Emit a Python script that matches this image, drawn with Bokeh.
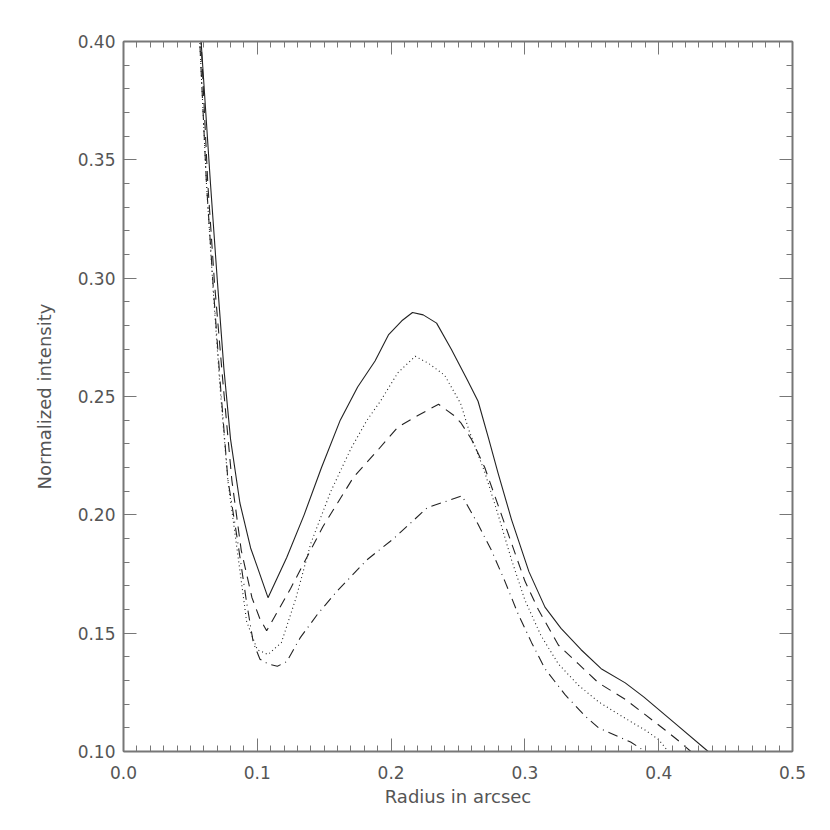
from bokeh.plotting import figure
from bokeh.models import LinearAxis, FixedTicker, PrintfTickFormatter, Range1d, CustomJSTickFormatter
from bokeh.embed import file_html
from bokeh.resources import INLINE

# Radius in arcsec / normalized intensity, four profiles
x_solid = [0.050, 0.058, 0.065, 0.070, 0.075, 0.080, 0.087, 0.095, 0.100, 0.108,
           0.122, 0.135, 0.148, 0.162, 0.175, 0.188, 0.198, 0.208, 0.216, 0.224,
           0.234, 0.245, 0.257, 0.265, 0.273, 0.280, 0.290, 0.303, 0.315, 0.327,
           0.342, 0.357, 0.375, 0.389, 0.412, 0.437, 0.450]
y_solid = [0.460, 0.400, 0.340, 0.300, 0.262, 0.232, 0.205, 0.186, 0.178, 0.165,
           0.182, 0.200, 0.220, 0.240, 0.254, 0.265, 0.276, 0.282, 0.2855, 0.2845,
           0.281, 0.270, 0.257, 0.248, 0.232, 0.2175, 0.198, 0.176, 0.161, 0.152,
           0.143, 0.135, 0.129, 0.123, 0.112, 0.100, 0.094]

x_dot = [0.049, 0.057, 0.062, 0.067, 0.072, 0.078, 0.085, 0.092, 0.100, 0.108,
         0.118, 0.129, 0.140, 0.155, 0.170, 0.182, 0.192, 0.205, 0.218, 0.228,
         0.240, 0.252, 0.258, 0.270, 0.280, 0.290, 0.300, 0.312, 0.325, 0.340,
         0.355, 0.375, 0.390, 0.400, 0.410]
y_dot = [0.460, 0.400, 0.340, 0.295, 0.255, 0.2145, 0.185, 0.155, 0.143, 0.141,
         0.146, 0.165, 0.188, 0.210, 0.228, 0.240, 0.248, 0.260, 0.267, 0.264,
         0.259, 0.247, 0.236, 0.218, 0.200, 0.181, 0.164, 0.149, 0.137, 0.128,
         0.121, 0.114, 0.109, 0.105, 0.098]

x_dash = [0.050, 0.058, 0.063, 0.068, 0.074, 0.081, 0.088, 0.096, 0.102, 0.107,
          0.116, 0.125, 0.137, 0.149, 0.160, 0.172, 0.188, 0.205, 0.220, 0.2355,
          0.247, 0.252, 0.260, 0.270, 0.280, 0.290, 0.300, 0.310, 0.325, 0.340,
          0.355, 0.375, 0.389, 0.405, 0.416, 0.424, 0.430]
y_dash = [0.460, 0.400, 0.340, 0.298, 0.258, 0.2145, 0.185, 0.165, 0.156, 0.151,
          0.160, 0.169, 0.182, 0.195, 0.205, 0.216, 0.226, 0.237, 0.242, 0.2467,
          0.242, 0.239, 0.232, 0.220, 0.204, 0.188, 0.172, 0.160, 0.145, 0.137,
          0.129, 0.122, 0.116, 0.109, 0.104, 0.100, 0.097]

x_dd = [0.049, 0.057, 0.062, 0.067, 0.072, 0.078, 0.085, 0.092, 0.097, 0.102,
        0.108, 0.115, 0.122, 0.132, 0.145, 0.160, 0.182, 0.202, 0.227, 0.253,
        0.265, 0.275, 0.285, 0.295, 0.305, 0.315, 0.330, 0.345, 0.355, 0.379,
        0.390, 0.400]
y_dd = [0.460, 0.400, 0.340, 0.297, 0.258, 0.215, 0.190, 0.163, 0.146, 0.139,
        0.137, 0.136, 0.138, 0.148, 0.158, 0.168, 0.181, 0.190, 0.203, 0.208,
        0.196, 0.185, 0.172, 0.158, 0.146, 0.135, 0.124, 0.115, 0.110, 0.104,
        0.100, 0.097]

x_ticks = [0.0, 0.1, 0.2, 0.3, 0.4, 0.5]
y_ticks = [0.10, 0.15, 0.20, 0.25, 0.30, 0.35, 0.40]
x_minor = [i / 100 for i in range(0, 51)]
y_minor = [i / 100 for i in range(10, 41)]

FONT = "DejaVu Sans"
AXC = "#777777"
TXT = "#555555"

p = figure(width=814, height=814, output_backend="svg", toolbar_location=None,
           x_range=Range1d(0, 0.5), y_range=Range1d(0.1, 0.4),
           min_border_left=123, min_border_right=22, min_border_top=41,
           min_border_bottom=63)
p.outline_line_color = None
p.xgrid.visible = False
p.ygrid.visible = False
p.background_fill_color = "white"
p.border_fill_color = "white"

lw = 1.1
col = "#222222"
p.line(x_solid, y_solid, line_color=col, line_width=lw)
p.line(x_dot, y_dot, line_color=col, line_width=lw, line_dash="1 3")
p.line(x_dash, y_dash, line_color=col, line_width=lw, line_dash="10 7")
p.line(x_dd, y_dd, line_color=col, line_width=lw, line_dash="10 5 1 5")


def style(ax):
    ax.axis_line_color = AXC
    ax.axis_line_width = 2
    ax.major_tick_line_color = AXC
    ax.minor_tick_line_color = AXC
    ax.major_tick_in = 13
    ax.major_tick_out = 0
    ax.minor_tick_in = 6
    ax.minor_tick_out = 0
    ax.major_label_text_font = FONT
    ax.major_label_text_color = TXT
    ax.major_label_text_font_size = "17px"
    ax.axis_label_text_font = FONT
    ax.axis_label_text_color = TXT
    ax.axis_label_text_font_size = "18px"
    ax.axis_label_text_font_style = "normal"


xb = p.xaxis[0]
xb.ticker = FixedTicker(ticks=x_ticks, minor_ticks=x_minor)
xb.formatter = PrintfTickFormatter(format="%.1f")
xb.axis_label = "Radius in arcsec"
style(xb)
xb.major_label_standoff = 14
xb.axis_label_standoff = 4

yl = p.yaxis[0]
yl.ticker = FixedTicker(ticks=y_ticks, minor_ticks=y_minor)
yl.formatter = PrintfTickFormatter(format="%.2f")
yl.axis_label = "Normalized intensity"
style(yl)
yl.major_label_standoff = 8
yl.axis_label_standoff = 20

blank = CustomJSTickFormatter(code="return ''")
xt = LinearAxis(ticker=FixedTicker(ticks=x_ticks, minor_ticks=x_minor), formatter=blank)
style(xt)
p.add_layout(xt, "above")
yr = LinearAxis(ticker=FixedTicker(ticks=y_ticks, minor_ticks=y_minor), formatter=blank)
style(yr)
p.add_layout(yr, "right")

open("out.html", "w").write(file_html(p, INLINE))
